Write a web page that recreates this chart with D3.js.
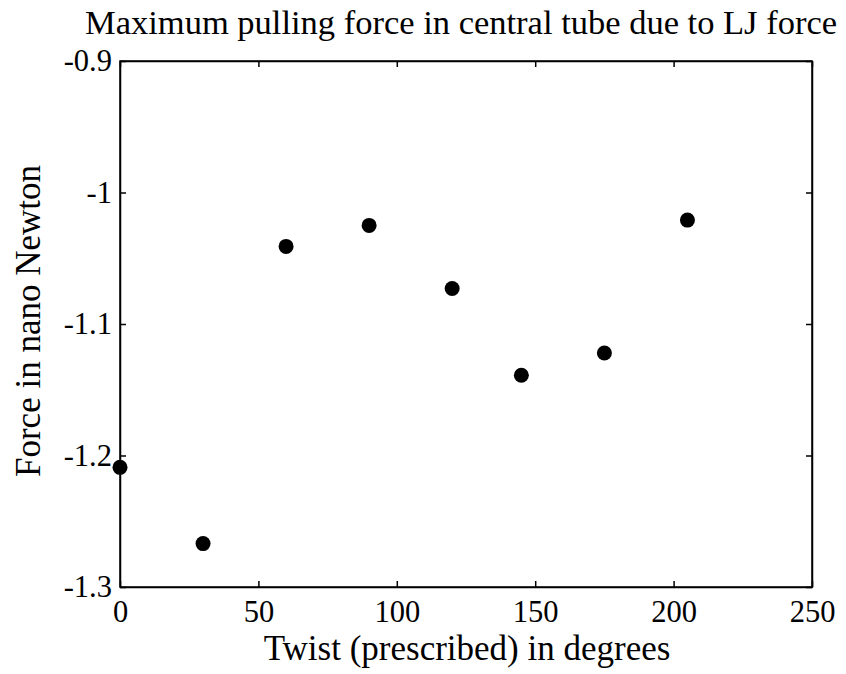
<!DOCTYPE html>
<html>
<head>
<meta charset="utf-8">
<script src="https://cdn.jsdelivr.net/npm/d3@7"></script>
<style>
  body { margin: 0; background: #fff; }
  text { font-family: "Liberation Serif", "Times New Roman", serif; fill: #000; }
</style>
</head>
<body>
<svg id="mainsvg"></svg>
<script>
// data
let twist = [0, 30, 60, 90, 120, 145, 175, 205];
let force = [-1.209, -1.267, -1.041, -1.025, -1.073, -1.139, -1.122, -1.021];
let xTicks = [0, 50, 100, 150, 200, 250];
let yTicks = [-1.3, -1.2, -1.1, -1, -0.9];

let svgWidth = 846,
    svgHeight = 674,
    margin = {top: 61, right: 34, bottom: 87, left: 120},
    width = svgWidth - margin.left - margin.right,
    height = svgHeight - margin.top - margin.bottom;

let mainsvg = d3.select("#mainsvg").attr("width", svgWidth).attr("height", svgHeight);
let g = mainsvg.append("g").attr("transform", `translate(${margin.left}, ${margin.top})`);

let scaleX = d3.scaleLinear().domain([0, 250]).range([0, width]),
    scaleY = d3.scaleLinear().domain([-1.3, -0.9]).range([height, 0]);

// box
g.append("rect")
    .attr("width", width).attr("height", height)
    .attr("fill", "none").attr("stroke", "#000").attr("stroke-width", 1.5);

// axes with inward ticks
let xAxis = g.append("g")
    .attr("transform", `translate(0,${height})`)
    .call(d3.axisBottom(scaleX).tickValues(xTicks).tickSizeInner(-6).tickSizeOuter(0).tickPadding(13).tickFormat(d3.format("d")));
let yAxis = g.append("g")
    .call(d3.axisLeft(scaleY).tickValues(yTicks).tickSizeInner(-6).tickSizeOuter(0).tickPadding(8).tickFormat(d => String(d)));
g.append("g")
    .call(d3.axisTop(scaleX).tickValues(xTicks).tickSizeInner(-6).tickSizeOuter(0).tickFormat(""));
g.append("g").attr("transform", `translate(${width},0)`)
    .call(d3.axisRight(scaleY).tickValues(yTicks).tickSizeInner(-6).tickSizeOuter(0).tickFormat(""));

g.selectAll(".domain").attr("stroke", "#000").attr("stroke-width", 1.5);
g.selectAll(".tick line").attr("stroke", "#000").attr("stroke-width", 1.5);
g.selectAll(".tick text").style("font-size", "30.5px").style("font-family", "Liberation Serif");
xAxis.selectAll(".tick text").attr("dy", "0.71em");

// points
g.append("g").selectAll("circle")
    .data(twist).enter().append("circle")
    .attr("cx", d => scaleX(d))
    .attr("cy", (d, i) => scaleY(force[i]))
    .attr("r", 7.5)
    .attr("fill", "#000");

// labels
mainsvg.append("text")
    .attr("x", 461).attr("y", 34)
    .attr("text-anchor", "middle")
    .style("font-size", "34.5px")
    .text("Maximum pulling force in central tube due to LJ force");

mainsvg.append("text")
    .attr("x", 467).attr("y", 660)
    .attr("text-anchor", "middle")
    .style("font-size", "35px")
    .text("Twist (prescribed) in degrees");

mainsvg.append("text")
    .attr("transform", `translate(40, 321) rotate(-90)`)
    .attr("text-anchor", "middle")
    .style("font-size", "35px")
    .text("Force in nano Newton");
</script>
</body>
</html>
